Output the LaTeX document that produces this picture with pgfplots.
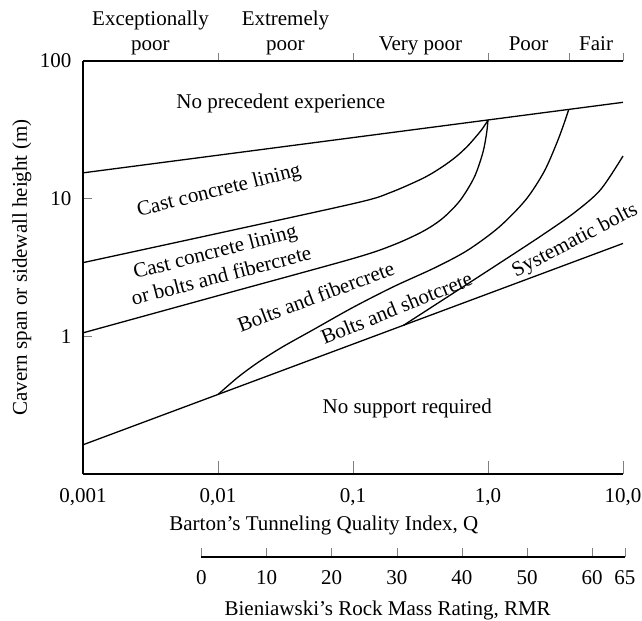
\documentclass[border=0pt]{standalone}
\usepackage{fontspec}
\setmainfont{Liberation Serif}
\usepackage{pgfplots}
\pgfplotsset{compat=1.18}
\usetikzlibrary{calc}

\begin{document}
\fontsize{10.5bp}{12.6bp}\selectfont
\begin{tikzpicture}
\pgfplotsset{
  myaxis/.style={
    scale only axis,
    line width=0.65bp,
    axis line style={-},
    every outer x axis line/.append style={-},
    every outer y axis line/.append style={-},
    /pgf/number format/assume math mode=true,
  },
  bnd/.style={black, line width=0.65bp, no marks},
}
% ---------------- main axis ----------------
\begin{axis}[
  myaxis,
  name=main,
  width=270bp, height=206.5bp,
  xmode=log, ymode=log,
  xmin=0.001, xmax=10, ymin=0.1, ymax=100,
  axis x line*=bottom, axis y line*=left,
  xtick={0.001,0.01,0.1,1,10},
  xticklabels={{0,001},{0,01},{0,1},{1,0},{10,0}},
  ytick={1,10,100}, yticklabels={1,10,100},
  xminorticks=false, yminorticks=false,
  tick align=inside,
  xtick style={/pgfplots/major tick length=6.3bp},
  ytick style={/pgfplots/major tick length=4.5bp},
  xticklabel style={anchor=base, yshift=-14bp},
  yticklabel style={xshift=-2bp},
  xlabel={Barton's Tunneling Quality Index, Q},
  xlabel style={at={(axis description cs:0.446,0)}, anchor=base, yshift=-28bp},
  ylabel={Cavern span or sidewall height (m)},
  ylabel style={at={(axis description cs:-0.113,0.5)}, anchor=center},
  clip=false,
]
\coordinate (bl) at (rel axis cs:0,0);
\coordinate (tr) at (rel axis cs:1,1);

% No precedent experience boundary
\addplot[bnd] coordinates {(0.001,15.4) (10,50.1)};
% No support required boundary / systematic bolts lower
\addplot[bnd] coordinates {(0.001,0.163) (10,4.73)};
% Cast concrete lining lower boundary
\addplot[bnd, smooth] coordinates {
  (0.001,3.43) (0.01,5.6) (0.1076,9.35) (0.1885,11.06) (0.331,14.09)
  (0.458,17.02) (0.58,20.17) (0.70,23.88) (0.812,28.12) (0.90,31.8) (1.0,37.1)};
% Cast concrete lining or bolts and fibercrete lower boundary
\addplot[bnd, smooth] coordinates {
  (0.001,1.06) (0.01,1.974) (0.1,3.675) (0.2,4.62) (0.33,5.79)
  (0.46,7.18) (0.62,9.68) (0.79,14.26) (0.915,21.5) (0.975,29.6) (1.0,37.1)};
% Bolts and fibercrete lower boundary
\addplot[bnd, smooth] coordinates {
  (0.01,0.378) (0.0141,0.506) (0.02,0.651) (0.03,0.837) (0.05,1.108)
  (0.1,1.623) (0.2,2.296) (0.4,3.135) (0.7,4.195) (1.2,6.18) (1.9,9.79)
  (2.6,15.67) (3.2,24.75) (3.6,33.6) (3.96,44.3)};
% Bolts and shotcrete lower boundary
\addplot[bnd, smooth] coordinates {
  (0.236,1.20) (0.513,1.963) (1.191,3.354) (2.47,5.36) (4.33,7.87)
  (6.79,11.56) (10,20.4)};

% region labels
\node at (axis cs:0.0292,49) {No precedent experience};
\node[rotate=14] at (axis cs:0.0102,11.3) {Cast concrete lining};
\node[rotate=14.5, align=center] at (axis cs:0.01,3.4) {Cast concrete lining\\or bolts and fibercrete};
\node[rotate=20.7] at (axis cs:0.053,1.95) {Bolts and fibercrete};
\node[rotate=22] at (axis cs:0.21,1.61) {Bolts and shotcrete};
\node[rotate=27.5] at (axis cs:4.42,4.93) {Systematic bolts};
\node at (axis cs:0.252,0.30) {No support required};

% rock class labels above the plot
\node[anchor=base, yshift=18bp] at (axis cs:0.003162,100) {Exceptionally};
\node[anchor=base, yshift=5.5bp] at (axis cs:0.003162,100) {poor};
\node[anchor=base, yshift=18bp] at (axis cs:0.03162,100) {Extremely};
\node[anchor=base, yshift=5.5bp] at (axis cs:0.03162,100) {poor};
\node[anchor=base, yshift=5.5bp] at (axis cs:0.3162,100) {Very poor};
\node[anchor=base, yshift=5.5bp] at (axis cs:2,100) {Poor};
\node[anchor=base, yshift=5.5bp] at (axis cs:6.325,100) {Fair};
\end{axis}

% ---------------- top class axis ----------------
\begin{axis}[
  myaxis,
  at={(bl)}, anchor=south west,
  width=270bp, height=206.5bp,
  xmode=log, ymode=log,
  xmin=0.001, xmax=10, ymin=0.1, ymax=100,
  axis x line*=top, axis y line=none,
  xtick={0.01,0.1,1,4,10}, xticklabels={},
  xminorticks=false, yminorticks=false,
  tick align=outside,
  xtick style={/pgfplots/major tick length=4bp},
]
\addplot[draw=none] coordinates {(1,1)};
\end{axis}

% ---------------- RMR axis ----------------
\begin{axis}[
  myaxis,
  at={($(bl)+(59.183bp,-41.5bp)$)}, anchor=south west,
  width=211.719bp, height=10bp,
  xmin=0, xmax=65, ymin=0, ymax=1,
  axis x line*=bottom, axis y line=none,
  xtick={0,10,20,30,40,50,60,65},
  xticklabels={0,10,20,30,40,50,60,65},
  tick align=inside,
  xtick style={/pgfplots/major tick length=4.5bp},
  xticklabel style={anchor=base, yshift=-13.5bp},
  xlabel={Bieniawski's Rock Mass Rating, RMR},
  xlabel style={at={(axis description cs:0.44,0)}, anchor=base, yshift=-29bp},
]
\addplot[draw=none] coordinates {(10,0.5)};
\end{axis}

\pgfresetboundingbox
\path[use as bounding box] ($(bl)+(-41.5bp,-73.5bp)$) rectangle ($(tr)+(9.5bp,30.5bp)$);
\end{tikzpicture}
\end{document}
